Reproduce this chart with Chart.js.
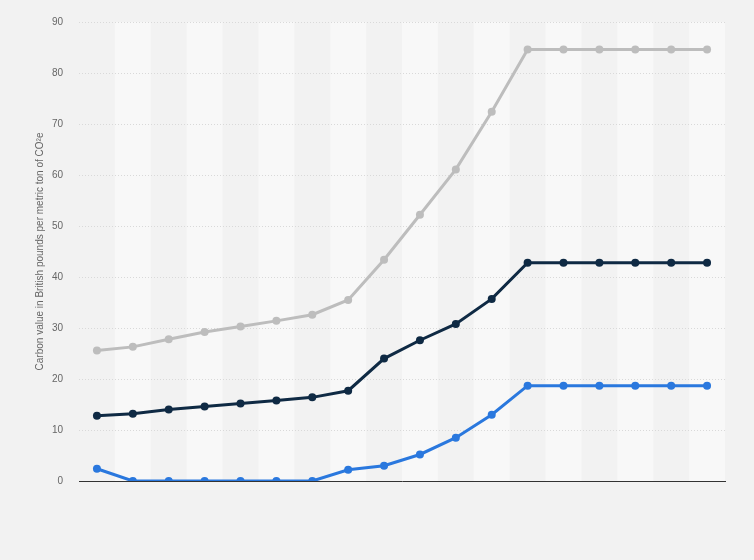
<!DOCTYPE html>
<html>
<head>
<meta charset="utf-8">
<script src="https://cdn.jsdelivr.net/npm/chart.js@4"></script>
<style>
  html, body { margin: 0; padding: 0; background: #f2f2f2; }
  #wrap { width: 754px; height: 560px; }
</style>
</head>
<body>
<div id="wrap"><canvas id="carbonChart" width="754" height="560"></canvas></div>
<script>
// 18 unlabeled periods
const categories = ['1','2','3','4','5','6','7','8','9','10','11','12','13','14','15','16','17','18'];
const highValues = [25.6, 26.3, 27.8, 29.2, 30.3, 31.4, 32.6, 35.5, 43.4, 52.2, 61.1, 72.4, 84.6, 84.6, 84.6, 84.6, 84.6, 84.6];
const centralValues = [12.8, 13.2, 14.0, 14.6, 15.2, 15.8, 16.4, 17.7, 24.0, 27.6, 30.8, 35.7, 42.8, 42.8, 42.8, 42.8, 42.8, 42.8];
const lowValues = [2.4, 0, 0, 0, 0, 0, 0, 2.2, 3.0, 5.2, 8.5, 13.0, 18.7, 18.7, 18.7, 18.7, 18.7, 18.7];
const yTicks = [0, 10, 20, 30, 40, 50, 60, 70, 80, 90];

// alternating column shading behind the lines
const bandPlugin = {
    id: 'bands',
    beforeDraw(chart) {
        const ctx = chart.ctx;
        const x = chart.scales.x;
        const area = chart.chartArea;
        const step = x.getPixelForValue(1) - x.getPixelForValue(0);
        ctx.save();
        ctx.fillStyle = '#f8f8f8';
        for (let i = 1; i < categories.length; i += 2) {
            const cx = x.getPixelForValue(i);
            ctx.fillRect(cx - step / 2, area.top, step, area.bottom - area.top);
        }
        ctx.restore();
    }
};

function series(data, color) {
    return {
        data: data,
        borderColor: color,
        backgroundColor: color,
        borderWidth: 3,
        pointRadius: 4,
        pointHoverRadius: 4,
        pointBorderWidth: 0,
        tension: 0,
        fill: false
    };
}

const ctx = document.getElementById('carbonChart');
new Chart(ctx, {
    type: 'line',
    data: {
        labels: categories,
        datasets: [
            series(highValues, '#bdbdbd'),
            series(centralValues, '#0f2a44'),
            series(lowValues, '#2a78de')
        ]
    },
    options: {
        responsive: false,
        animation: false,
        layout: { padding: { left: 34, right: 29, top: 14, bottom: 79 } },
        plugins: {
            legend: { display: false },
            tooltip: { enabled: false }
        },
        scales: {
            x: {
                offset: true,
                grid: { display: false, drawTicks: false },
                border: { display: true, color: '#333333', width: 1 },
                ticks: { display: false }
            },
            y: {
                min: 0,
                max: 90,
                afterBuildTicks: (axis) => { axis.ticks = yTicks.map(v => ({ value: v })); },
                afterFit: (axis) => { axis.width = 45; },
                grid: { color: '#d9d9d9', drawTicks: false, lineWidth: 1 },
                border: { display: false, dash: [1, 2] },
                ticks: {
                    color: '#666666',
                    padding: 16,
                    font: { family: 'Arial, "Liberation Sans", sans-serif', size: 10 }
                },
                title: {
                    display: true,
                    text: 'Carbon value in British pounds per metric ton of CO²e',
                    color: '#666666',
                    padding: { top: 0, bottom: 4 },
                    font: { family: 'Arial, "Liberation Sans", sans-serif', size: 10 }
                }
            }
        }
    },
    plugins: [bandPlugin]
});
</script>
</body>
</html>
